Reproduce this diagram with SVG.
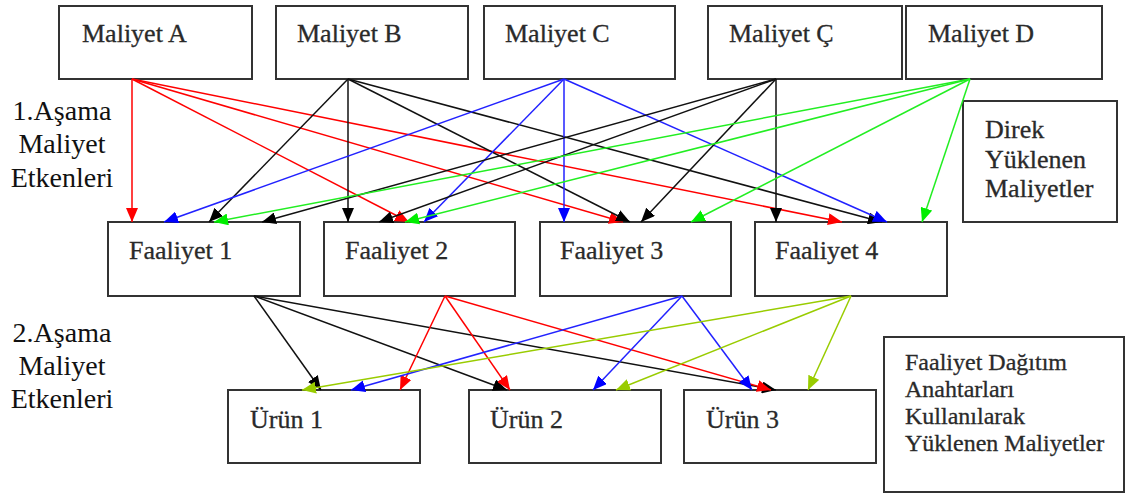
<svg xmlns="http://www.w3.org/2000/svg" width="1126" height="497" viewBox="0 0 1126 497">
<style>
.box{fill:#fff;stroke:#333;stroke-width:2}
.t{font-family:"Liberation Serif","Times New Roman",serif;font-size:26px;fill:#2a2a2a;stroke:#2a2a2a;stroke-width:0.3}
.side{font-family:"Liberation Serif","Times New Roman",serif;font-size:28px;fill:#111;text-anchor:middle}
.small{font-family:"Liberation Serif","Times New Roman",serif;font-size:26px;fill:#2a2a2a;stroke:#2a2a2a;stroke-width:0.3}
.tiny{font-family:"Liberation Serif","Times New Roman",serif;font-size:24px;fill:#2a2a2a;stroke:#2a2a2a;stroke-width:0.3}
.r{stroke:#ff0000;stroke-width:1.5;fill:none;marker-end:url(#mr)}
.k{stroke:#111;stroke-width:1.5;fill:none;marker-end:url(#mk)}
.b{stroke:#2222ff;stroke-width:1.5;fill:none;marker-end:url(#mb)}
.g{stroke:#22ee22;stroke-width:1.5;fill:none;marker-end:url(#mg)}
.y{stroke:#99cc00;stroke-width:1.5;fill:none;marker-end:url(#my)}
</style>
<defs>
<marker id="mr" markerUnits="userSpaceOnUse" markerWidth="14" markerHeight="12" refX="14" refY="6" orient="auto"><path d="M0,0 L14,6 L0,12 z" fill="#ff0000"/></marker>
<marker id="mk" markerUnits="userSpaceOnUse" markerWidth="14" markerHeight="12" refX="14" refY="6" orient="auto"><path d="M0,0 L14,6 L0,12 z" fill="#000"/></marker>
<marker id="mb" markerUnits="userSpaceOnUse" markerWidth="14" markerHeight="12" refX="14" refY="6" orient="auto"><path d="M0,0 L14,6 L0,12 z" fill="#0000ff"/></marker>
<marker id="mg" markerUnits="userSpaceOnUse" markerWidth="14" markerHeight="12" refX="14" refY="6" orient="auto"><path d="M0,0 L14,6 L0,12 z" fill="#00ee00"/></marker>
<marker id="my" markerUnits="userSpaceOnUse" markerWidth="14" markerHeight="12" refX="14" refY="6" orient="auto"><path d="M0,0 L14,6 L0,12 z" fill="#99cc00"/></marker>
</defs>
<rect width="1126" height="497" fill="#fff"/>

<g id="maliyet-a"><rect class="box" x="59" y="6" width="193" height="73"/><text class="t" x="82" y="42">Maliyet A</text></g>
<g id="maliyet-b"><rect class="box" x="276" y="6" width="192" height="73"/><text class="t" x="297" y="42">Maliyet B</text></g>
<g id="maliyet-c"><rect class="box" x="484" y="6" width="191" height="73"/><text class="t" x="505" y="42">Maliyet C</text></g>
<g id="maliyet-cc"><rect class="box" x="708" y="6" width="194" height="73"/><text class="t" x="729" y="42">Maliyet Ç</text></g>
<g id="maliyet-d"><rect class="box" x="906" y="6" width="196" height="73"/><text class="t" x="928" y="42">Maliyet D</text></g>

<g id="label-1"><text class="side" x="62" y="120">1.Aşama</text><text class="side" x="62" y="153">Maliyet</text><text class="side" x="62" y="187">Etkenleri</text></g>
<g id="label-2"><text class="side" x="62" y="342">2.Aşama</text><text class="side" x="62" y="375">Maliyet</text><text class="side" x="62" y="408">Etkenleri</text></g>

<g id="direk"><rect class="box" x="963" y="101" width="154" height="121"/><text class="small" x="985" y="138">Direk</text><text class="small" x="985" y="168">Yüklenen</text><text class="small" x="985" y="197">Maliyetler</text></g>

<g id="faaliyet-1"><rect class="box" x="108" y="222" width="192" height="74"/><text class="t" x="129" y="259">Faaliyet 1</text></g>
<g id="faaliyet-2"><rect class="box" x="324" y="222" width="191" height="74"/><text class="t" x="345" y="259">Faaliyet 2</text></g>
<g id="faaliyet-3"><rect class="box" x="540" y="222" width="191" height="74"/><text class="t" x="560" y="259">Faaliyet 3</text></g>
<g id="faaliyet-4"><rect class="box" x="755" y="222" width="192" height="74"/><text class="t" x="775" y="259">Faaliyet 4</text></g>

<g id="urun-1"><rect class="box" x="228" y="390" width="192" height="73"/><text class="t" x="250" y="428">Ürün 1</text></g>
<g id="urun-2"><rect class="box" x="469" y="390" width="192" height="73"/><text class="t" x="490" y="428">Ürün 2</text></g>
<g id="urun-3"><rect class="box" x="684" y="390" width="192" height="73"/><text class="t" x="706" y="428">Ürün 3</text></g>

<g id="dagitim"><rect class="box" x="884" y="337" width="240" height="155"/><text class="tiny" x="905" y="370">Faaliyet Dağıtım</text><text class="tiny" x="905" y="397">Anahtarları</text><text class="tiny" x="905" y="424">Kullanılarak</text><text class="tiny" x="905" y="451">Yüklenen Maliyetler</text></g>

<g id="connectors">
<line class="r" x1="132" y1="79" x2="132" y2="222"/>
<line class="r" x1="132" y1="79" x2="409" y2="222"/>
<line class="r" x1="132" y1="79" x2="623" y2="222"/>
<line class="r" x1="132" y1="79" x2="842" y2="222"/>

<line class="k" x1="348" y1="79" x2="209" y2="222"/>
<line class="k" x1="348" y1="79" x2="348" y2="222"/>
<line class="k" x1="348" y1="79" x2="630" y2="222"/>
<line class="k" x1="348" y1="79" x2="882" y2="222"/>

<line class="b" x1="564" y1="79" x2="164" y2="222"/>
<line class="b" x1="564" y1="79" x2="424" y2="222"/>
<line class="b" x1="564" y1="79" x2="564" y2="222"/>
<line class="b" x1="564" y1="79" x2="887" y2="222"/>

<line class="k" x1="776" y1="79" x2="262" y2="222"/>
<line class="k" x1="776" y1="79" x2="379" y2="222"/>
<line class="k" x1="776" y1="79" x2="641" y2="222"/>
<line class="k" x1="776" y1="79" x2="776" y2="222"/>

<line class="g" x1="970" y1="79" x2="214" y2="222"/>
<line class="g" x1="970" y1="79" x2="405" y2="222"/>
<line class="g" x1="970" y1="79" x2="691" y2="222"/>
<line class="g" x1="970" y1="79" x2="922" y2="222"/>

<line class="k" x1="254" y1="296" x2="321" y2="390"/>
<line class="k" x1="254" y1="296" x2="507" y2="390"/>
<line class="k" x1="254" y1="296" x2="776" y2="390"/>

<line class="r" x1="445" y1="296" x2="400" y2="390"/>
<line class="r" x1="445" y1="296" x2="510" y2="390"/>
<line class="r" x1="445" y1="296" x2="771" y2="390"/>

<line class="b" x1="682" y1="296" x2="351" y2="390"/>
<line class="b" x1="682" y1="296" x2="593" y2="390"/>
<line class="b" x1="682" y1="296" x2="752" y2="390"/>

<line class="y" x1="851" y1="296" x2="302" y2="390"/>
<line class="y" x1="851" y1="296" x2="616" y2="390"/>
<line class="y" x1="851" y1="296" x2="808" y2="390"/>
</g>
</svg>
